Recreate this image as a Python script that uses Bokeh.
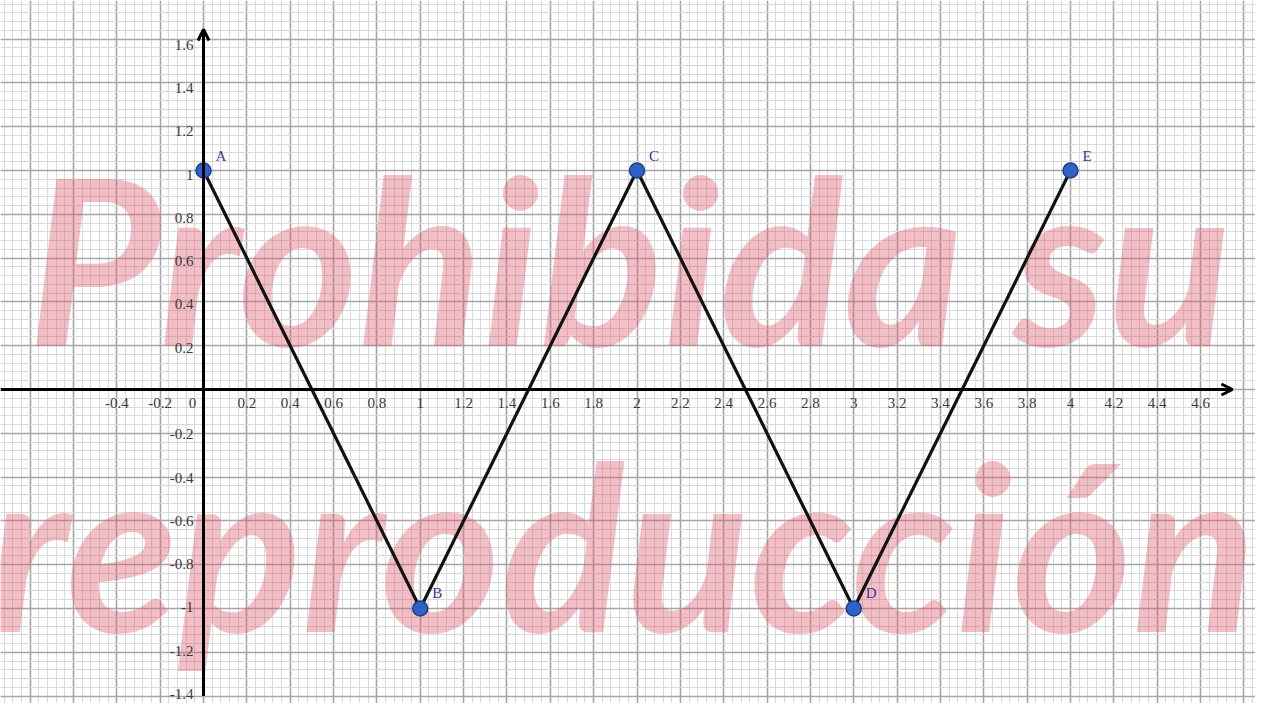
from bokeh.plotting import figure
from bokeh.models import Grid, SingleIntervalTicker, Arrow, OpenHead
from bokeh.core.properties import value
from bokeh.embed import file_html
from bokeh.resources import INLINE

# ---- data ----
point_names = ["A", "B", "C", "D", "E"]
point_x = [0, 1, 2, 3, 4]
point_y = [1, -1, 1, -1, 1]

x_tick_values = [-0.4, -0.2, 0, 0.2, 0.4, 0.6, 0.8, 1, 1.2, 1.4, 1.6, 1.8, 2, 2.2,
                 2.4, 2.6, 2.8, 3, 3.2, 3.4, 3.6, 3.8, 4, 4.2, 4.4, 4.6]
x_tick_labels = ["-0.4", "-0.2", "0", "0.2", "0.4", "0.6", "0.8", "1", "1.2", "1.4",
                 "1.6", "1.8", "2", "2.2", "2.4", "2.6", "2.8", "3", "3.2", "3.4",
                 "3.6", "3.8", "4", "4.2", "4.4", "4.6"]
y_tick_values = [1.6, 1.4, 1.2, 1, 0.8, 0.6, 0.4, 0.2,
                 -0.2, -0.4, -0.6, -0.8, -1, -1.2, -1.4]
y_tick_labels = ["1.6", "1.4", "1.2", "1", "0.8", "0.6", "0.4", "0.2",
                 "-0.2", "-0.4", "-0.6", "-0.8", "-1", "-1.2", "-1.4"]

watermark_lines = ["Prohibida su", "reproducción"]

# ---- layout ----
W, H = 1255, 703
X_RANGE = (-0.9366, 4.8535)
Y_RANGE = (-1.4338, 1.7763)
wm_x = [-0.812, -0.997]
wm_y = [0.603, -0.699]

p = figure(width=W, height=H, x_range=X_RANGE, y_range=Y_RANGE,
           output_backend="svg", toolbar_location=None,
           x_axis_type=None, y_axis_type=None,
           min_border=0, outline_line_color=None,
           background_fill_color="white", border_fill_color="white")

for dim in (0, 1):
    g = Grid(dimension=dim,
             ticker=SingleIntervalTicker(interval=0.2, num_minor_ticks=5),
             grid_line_color="#a6a6a6", grid_line_width=1.6,
             minor_grid_line_color="#d9d9d9", minor_grid_line_width=1)
    p.add_layout(g)

# watermark
p.text(x=wm_x, y=wm_y, text=watermark_lines,
       text_font=value("Lato"), text_font_style="bold italic",
       text_font_size="230px", text_color="#e0566c", text_alpha=0.38,
       text_baseline="alphabetic", text_align="left")

# axes with arrows
p.add_layout(Arrow(x_start=0, y_start=-1.4, x_end=0, y_end=1.644,
                   line_width=3, line_color="black",
                   end=OpenHead(size=11, line_width=3, line_color="black")))
p.add_layout(Arrow(x_start=X_RANGE[0], y_start=0, x_end=4.747, y_end=0,
                   line_width=3, line_color="black",
                   end=OpenHead(size=11, line_width=3, line_color="black")))

# tick labels
x_off = [-11 if v == 0 else 0 for v in x_tick_values]
p.text(x=x_tick_values, y=[0] * len(x_tick_values), text=x_tick_labels,
       x_offset=x_off, y_offset=8,
       text_font=value("Liberation Serif"), text_font_size="15px",
       text_color="#3a3a3a", text_align="center", text_baseline="top")
y_off = [1.5 + 2.5 * v for v in y_tick_values]
p.text(x=[0] * len(y_tick_values), y=y_tick_values, text=y_tick_labels,
       x_offset=-10, y_offset=y_off,
       text_font=value("Liberation Serif"), text_font_size="15px",
       text_color="#3a3a3a", text_align="right", text_baseline="middle")

# zigzag and points
p.line(point_x, point_y, line_width=3.2, line_color="#111111")
p.scatter(point_x, point_y, size=15, fill_color="#2f62c9",
          line_color="#1d3c8c", line_width=1.5)
p.text(x=point_x, y=point_y, text=point_names, x_offset=12, y_offset=-7,
       text_font=value("Liberation Serif"), text_font_size="15px",
       text_color="#3a3a90", text_align="left", text_baseline="bottom")

open("out.html", "w").write(file_html(p, INLINE))
